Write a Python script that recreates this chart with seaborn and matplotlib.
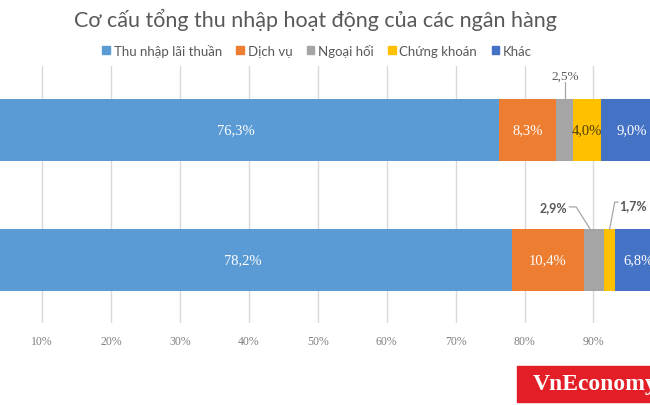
import pandas as pd
import seaborn as sns
import matplotlib.pyplot as plt
from matplotlib.patches import Rectangle

# data
groups = ["Nhóm 1", "Nhóm 2"]
series = ["Thu nhập lãi thuần", "Dịch vụ", "Ngoại hối", "Chứng khoán", "Khác"]
values_top = [76.3, 8.3, 2.5, 4.0, 9.0]
values_bottom = [78.2, 10.4, 2.9, 1.7, 6.8]
colors = ["#5B9BD5", "#ED7D31", "#A5A5A5", "#FFC000", "#4472C4"]
ticks = [10, 20, 30, 40, 50, 60, 70, 80, 90]

rows = []
for g, vals in zip(groups, [values_top, values_bottom]):
    cum = 0
    for s, v in zip(series, vals):
        cum += v
        rows.append({"group": g, "series": s, "value": v, "cum": cum})
df = pd.DataFrame(rows)

sns.set_theme(style="white")
plt.rcParams['font.family'] = ['Lato', 'DejaVu Sans']

fig = plt.figure(figsize=(6.5, 4.06), dpi=100)
# the reference is a crop: 0% and 100% fall outside the picture
ax = fig.add_axes([-26.7 / 650, (406 - 324) / 406, 689 / 650, 257 / 406])

# stacked bars: draw cumulative totals from the longest down
for s, c in reversed(list(zip(series, colors))):
    sns.barplot(data=df[df["series"] == s], x="cum", y="group", order=groups,
                color=c, width=0.47, orient="h", ax=ax, saturation=1,
                linewidth=0, zorder=2)

ax.set_xlim(0, 100)
ax.set_ylim(1.485, -0.492)
ax.set_xticks(ticks)
ax.set_xticklabels([f"{t}%" for t in ticks], family=['Liberation Serif'], fontsize=8.5, color="#7f7f7f")
ax.tick_params(axis="x", length=0, pad=9)
ax.set_yticks([])
ax.set_xlabel("")
ax.set_ylabel("")
ax.grid(axis="x", color="#D9D9D9", linewidth=1, zorder=0)
ax.set_axisbelow(True)
for sp in ax.spines.values():
    sp.set_visible(False)

# labels inside segments
label_color = {"Chứng khoán": "#4d3d00"}
outside = {("Nhóm 1", "Ngoại hối"), ("Nhóm 2", "Ngoại hối"), ("Nhóm 2", "Chứng khoán")}
for i, g in enumerate(groups):
    sub = df[df["group"] == g]
    for _, r in sub.iterrows():
        if (g, r["series"]) in outside:
            continue
        xc = r["cum"] - r["value"] / 2
        txt = f"{r['value']:.1f}%".replace(".", ",")
        ax.text(xc, i, txt, ha="center", va="center", fontsize=10.5,
                family=['Liberation Serif'], color=label_color.get(r["series"], "white"), zorder=5)

# small segments with leader lines
r = df[(df["group"] == "Nhóm 1") & (df["series"] == "Ngoại hối")].iloc[0]
xc = r["cum"] - r["value"] / 2
ax.plot([xc, xc], [-0.37, -0.235], color="#A6A6A6", lw=0.9, zorder=4)
ax.text(xc, -0.415, f"{r['value']:.1f}%".replace(".", ","), ha="center", va="center",
        fontsize=9.5, family=['Liberation Serif'], color="#595959")

r = df[(df["group"] == "Nhóm 2") & (df["series"] == "Ngoại hối")].iloc[0]
xc = r["cum"] - r["value"] / 2
ax.plot([86.5, 87.5, xc - 0.5], [0.592, 0.592, 0.765], color="#A6A6A6", lw=0.9, zorder=4)
ax.text(86.2, 0.592, f"{r['value']:.1f}%".replace(".", ","), ha="right", va="center",
        fontsize=9, fontweight="bold", color="#595959")

r = df[(df["group"] == "Nhóm 2") & (df["series"] == "Chứng khoán")].iloc[0]
xc = r["cum"] - r["value"] / 2
ax.plot([93.6, 93.1, xc], [0.555, 0.555, 0.765], color="#A6A6A6", lw=0.9, zorder=4)
ax.text(93.7, 0.575, f"{r['value']:.1f}%".replace(".", ","), ha="left", va="center",
        fontsize=9, fontweight="bold", color="#595959")

# legend
handles = [Rectangle((0, 0), 1, 1, color=c) for c in colors]
fig.legend(handles, series, loc="center", bbox_to_anchor=(0.488, 1 - 51 / 406), ncol=5,
           frameon=False, fontsize=9.5, handlelength=0.55, handleheight=0.55,
           handletextpad=0.3, columnspacing=1.1, labelcolor="#595959")

fig.text(0.486, 1 - 20 / 406, "Cơ cấu tổng thu nhập hoạt động của các ngân hàng",
         ha="center", va="center", fontsize=15.5, color="#595959")

# VnEconomy badge
fig.patches.append(Rectangle((517 / 650, 3 / 406), 140 / 650, 36 / 406,
                             transform=fig.transFigure, color="#E41E26", zorder=5))
fig.text(533 / 650, 21 / 406, "VnEconomy", ha="left", va="center", fontsize=17,
         fontweight="bold", family=['Liberation Serif'], color="white", zorder=6)

fig.savefig("out.png", dpi=100)
